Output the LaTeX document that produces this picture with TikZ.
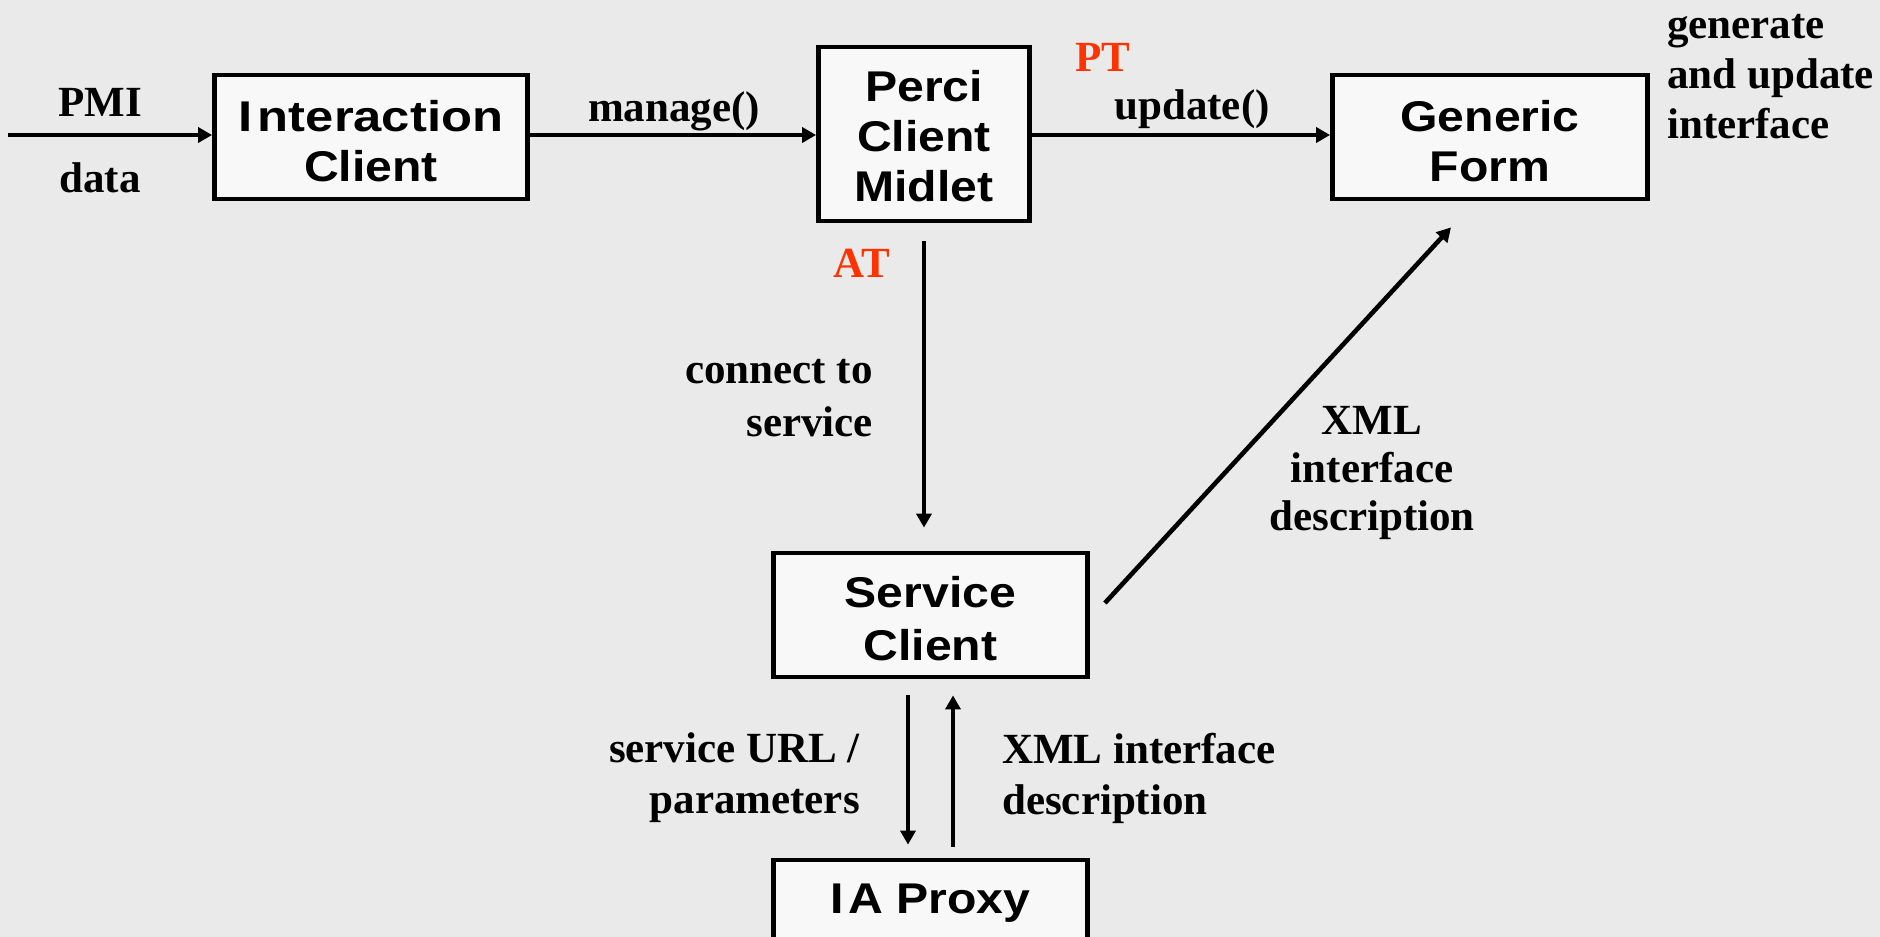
\documentclass[tikz,border=0pt]{standalone}
\usepackage{fontspec}
\setmainfont{Liberation Serif}
\newfontfamily\boxfont[FakeStretch=1.12]{Liberation Sans}
\newfontfamily\wideboxfont[FakeStretch=1.18]{Liberation Sans}
\usetikzlibrary{arrows.meta,calc}
\definecolor{bg}{HTML}{EAEAEA}
\definecolor{boxfill}{HTML}{F8F8F8}
\definecolor{accent}{HTML}{FF3300}
\newcommand{\topstrut}[1]{\rule{0pt}{#1}}
\begin{document}
\begin{tikzpicture}[x=1pt,y=-1pt,
  box/.style={draw=black, line width=4.8pt, fill=boxfill,
    font={\boxfont\bfseries\fontsize{43}{50}\selectfont}, align=center, inner sep=0pt},
  lab/.style={font={\bfseries\fontsize{43}{51}\selectfont}, inner sep=0pt},
  redlab/.style={lab, text=accent},
  arr/.style={line width=4.6pt, -{Triangle[length=14pt,width=15pt]}}
]
\useasboundingbox (0,0) rectangle (1880,937);
\fill[bg] (0,0) rectangle (1880,937);
\clip (0,0) rectangle (1880,937);

% boxes
\node[box, minimum width=313pt, minimum height=124pt] (inter) at (371,137)
  {\topstrut{40pt}{\wideboxfont I\kern5pt nteraction}\\Client};
\node[box, minimum width=211pt, minimum height=174pt] (perci) at (924,134)
  {\topstrut{35pt}Perci\\Client\\Midlet};
\node[box, minimum width=315pt, minimum height=124pt] (generic) at (1490,137)
  {\topstrut{40pt}Generic\\Form};
\node[box, minimum width=314pt, minimum height=124pt, font={\boxfont\bfseries\fontsize{43}{53}\selectfont}] (service) at (930.5,615)
  {\topstrut{38pt}Service\\Client};
\node[box, minimum width=314pt, minimum height=86pt] (proxy) at (930.5,903) {I\kern4pt A Proxy};

% helper coordinates
\coordinate (ay) at (0,135);
\coordinate (inS) at (8,135);
\coordinate (atS) at ([yshift=-18pt]perci.south);
\coordinate (atE) at ($(service.north -| atS)+(0,-23)$);
\coordinate (dS) at ($(service.east)+(15,-12)$);
\coordinate (dE) at ($(generic.south)+(-39,26)$);
\coordinate (downS) at ($(service.south)+(-22.5,16)$);
\coordinate (downE) at ($(proxy.north)+(-22.5,-13)$);
\coordinate (upS) at ($(proxy.north)+(22.5,-11)$);
\coordinate (upE) at ($(service.south)+(22.5,16)$);

% connectors
\draw[arr] (inS) -- (inter.west |- ay);
\draw[arr] (inter.east |- ay) -- (perci.west |- ay);
\draw[arr] (perci.east |- ay) -- (generic.west |- ay);
\draw[arr] (atS) -- (atE);
\draw[arr] (dS) -- (dE);
\draw[arr] (downS) -- (downE);
\draw[arr] (upS) -- (upE);

% labels
\node[lab] (pmi) at (100,102) {PMI};
\node[lab] (data) at (100,178) {data};
\node[lab] (manage) at (674,111) {manage()};
\node[redlab] (pt) at (1103,57) {PT};
\node[lab] (update) at (1192,109) {update()};
\node[lab, anchor=west, align=left, font={\bfseries\fontsize{43}{50}\selectfont}] (gen) at (1667,77) {generate\\and update\\interface};
\node[redlab] (at) at (862,263) {AT};
\node[lab, anchor=east, align=right, font={\bfseries\fontsize{43}{53}\selectfont}] (conn) at (873,398) {connect to\\service};
\node[lab, align=center, font={\bfseries\fontsize{43}{48}\selectfont}] (xmld) at (1372,473) {XML\\interface\\description};
\node[lab, anchor=east, align=right] (surl) at (860,778) {service URL /\\parameters};
\node[lab, anchor=west, align=left] (xmlb) at (1002,778) {XML interface\\description};
\end{tikzpicture}
\end{document}
